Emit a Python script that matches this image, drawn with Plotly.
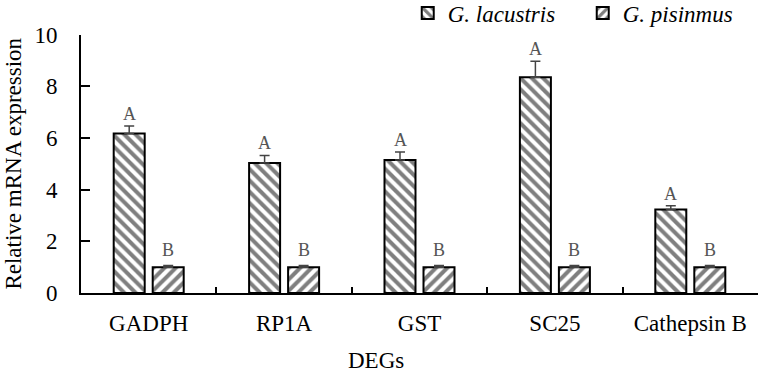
import plotly.graph_objects as go

categories = ["GADPH", "RP1A", "GST", "SC25", "Cathepsin B"]
lacustris = [6.17, 5.03, 5.15, 8.35, 3.23]
lacustris_err = [0.29, 0.29, 0.30, 0.62, 0.15]
pisinmus = [1.0, 1.0, 1.0, 1.0, 1.0]
pisinmus_err = [0.06, 0.06, 0.06, 0.06, 0.06]
lac_letters = ["A", "A", "A", "A", "A"]
pis_letters = ["B", "B", "B", "B", "B"]
y_ticks = [0, 2, 4, 6, 8, 10]

FONT = "Liberation Serif"

fig = go.Figure()
fig.add_trace(go.Bar(
    x=categories, y=lacustris, name="G. lacustris",
    marker=dict(color="white", line=dict(color="black", width=2),
                pattern=dict(shape="\\", fgcolor="black", bgcolor="white", size=8, solidity=0.5)),
    error_y=dict(type="data", array=lacustris_err, symmetric=False, arrayminus=[0]*5,
                 color="#444", thickness=1.5, width=5),
))
fig.add_trace(go.Bar(
    x=categories, y=pisinmus, name="G. pisinmus",
    marker=dict(color="white", line=dict(color="black", width=2),
                pattern=dict(shape="/", fgcolor="black", bgcolor="white", size=8, solidity=0.5)),
    error_y=dict(type="data", array=pisinmus_err, symmetric=False, arrayminus=[0]*5,
                 color="#444", thickness=1.5, width=5),
))

for i, c in enumerate(categories):
    fig.add_annotation(x=c, y=lacustris[i] + lacustris_err[i], text=lac_letters[i],
                       xshift=-19.5, yshift=0, yanchor="bottom", showarrow=False,
                       font=dict(family=FONT, size=18, color="#555"))
    fig.add_annotation(x=c, y=pisinmus[i] + pisinmus_err[i], text=pis_letters[i],
                       xshift=19.5, yshift=4, yanchor="bottom", showarrow=False,
                       font=dict(family=FONT, size=18, color="#555"))

fig.add_annotation(x=0.436, y=-0.262, xref="paper", yref="paper", text="DEGs",
                   showarrow=False, yanchor="middle",
                   font=dict(family=FONT, size=23, color="black"))

fig.update_layout(
    width=765, height=377,
    margin=dict(l=81, r=7, t=33, b=84),
    paper_bgcolor="white", plot_bgcolor="white",
    barmode="group", bargap=0.424, bargroupgap=0.205,
    font=dict(family=FONT, size=23, color="black"),
    showlegend=True,
    legend=dict(orientation="h", x=0.533, y=0.9655, xref="container", yref="container",
                xanchor="left", yanchor="middle",
                font=dict(family=FONT, size=23, color="black", style="italic"),
                itemwidth=30, entrywidth=130, entrywidthmode="pixels",
                tracegroupgap=0, bgcolor="rgba(0,0,0,0)"),
    xaxis=dict(showline=True, linecolor="black", linewidth=2, ticks="inside",
               tickson="boundaries", ticklen=6, tickwidth=2, tickcolor="black",
               tickfont=dict(family=FONT, size=23), showgrid=False, zeroline=False,
               ticklabelstandoff=8, automargin=False),
    yaxis=dict(range=[0, 10], tickvals=y_ticks, showline=True, linecolor="black",
               linewidth=2, ticks="inside", ticklen=9, tickwidth=1.5, tickcolor="black",
               showgrid=False, zeroline=False, tickfont=dict(family=FONT, size=23),
               ticklabelstandoff=17, automargin=False,
               title=dict(text="Relative mRNA expression", font=dict(family=FONT, size=23),
                          standoff=6)),
)

fig.write_html("out.html", config={"displayModeBar": False},
               post_script="document.body.style.margin='0';")
